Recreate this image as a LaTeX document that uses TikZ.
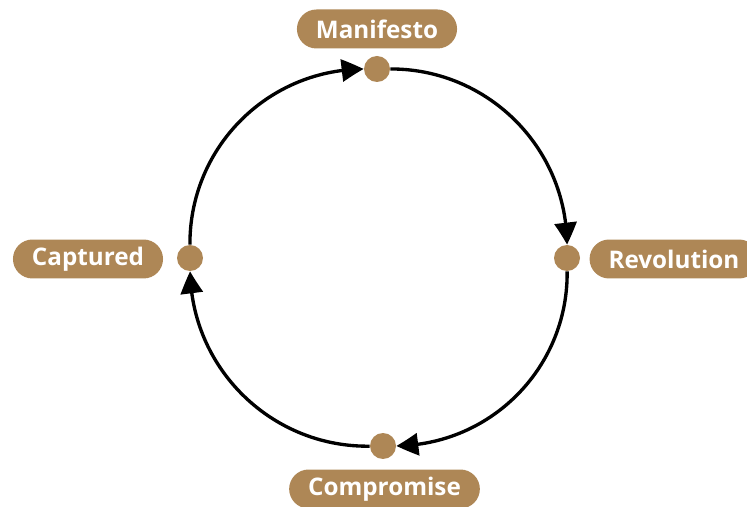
\documentclass[tikz,border=0pt]{standalone}
\usepackage{fontspec}
\setmainfont{Open Sans}
\usepackage{tikz}
\usetikzlibrary{arrows.meta,bending,positioning}
\definecolor{pillbrown}{RGB}{174,135,86}

\begin{document}
\begin{tikzpicture}[x=0.02cm, y=0.02cm,
                    pill/.style={fill=pillbrown, text=white, font=\bfseries\fontsize{13.8}{16}\selectfont,
                                 rounded corners=0.39cm, minimum height=0.78cm, inner xsep=0.38cm},
                    dot/.style={circle, fill=pillbrown, minimum size=0.52cm, inner sep=0pt},
                    flow/.style={line width=1.9pt, -{Triangle[length=0.44cm, width=0.44cm, bend]}}]
                    \useasboundingbox (0,0) rectangle (747,507);
                    \node [dot] (mdot) at (377, 438) {};
                    \node [dot] (rdot) at (567, 249) {};
                    \node [dot] (cdot) at (383, 61) {};
                    \node [dot] (kdot) at (190, 249) {};
                    \node [pill] (manifesto) at (377, 478) {Manifesto};
                    \node [pill] (revolution) at (674, 248) {Revolution};
                    \node [pill] (compromise) at (384.5, 18) {Compromise};
                    \node [pill] (captured) at (88, 248) {Captured};
                    \draw [flow] (mdot) to[bend left=45] (rdot);
                    \draw [flow] (rdot) to[bend left=45] (cdot);
                    \draw [flow] (cdot) to[bend left=45] (kdot);
                    \draw [flow] (kdot) to[bend left=45] (mdot);
                \end{tikzpicture}
\end{document}
